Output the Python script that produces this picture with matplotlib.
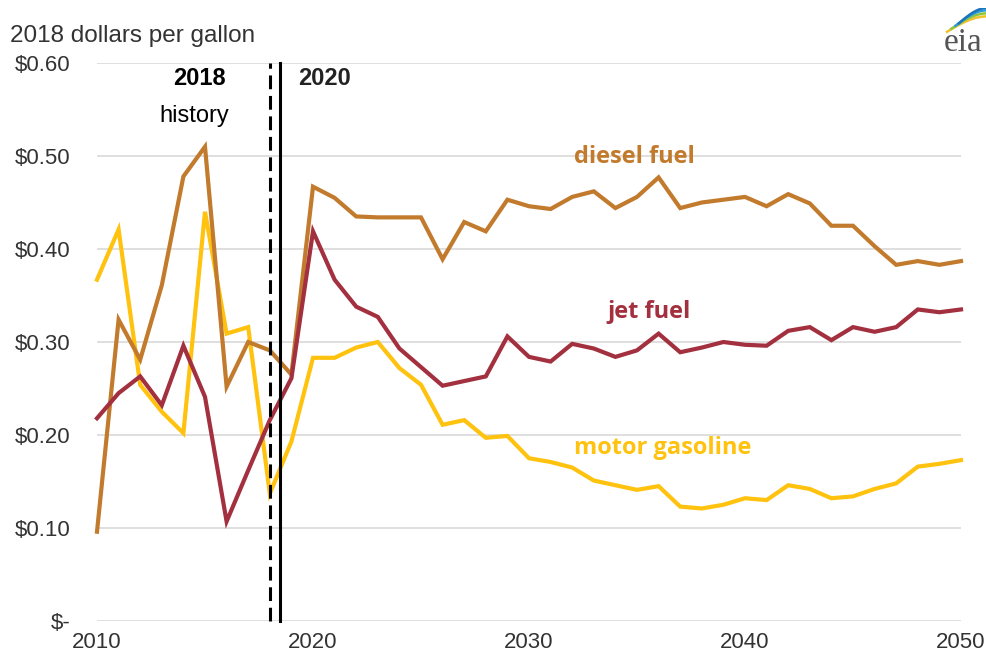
import numpy as np
import matplotlib
matplotlib.use('Agg')
import matplotlib.pyplot as plt

# Margins on fuel prices, 2018 dollars per gallon
years = list(range(2010, 2051))

diesel = [0.096, 0.324, 0.281, 0.361, 0.478, 0.510, 0.252, 0.300, 0.291, 0.265,
          0.467, 0.455, 0.435, 0.434, 0.434, 0.434, 0.389, 0.429, 0.419, 0.453,
          0.446, 0.443, 0.456, 0.462, 0.444, 0.456, 0.477, 0.444, 0.450, 0.453,
          0.456, 0.446, 0.459, 0.449, 0.425, 0.425, 0.403, 0.383, 0.387, 0.383,
          0.387]

jet = [0.218, 0.245, 0.263, 0.232, 0.296, 0.241, 0.107, 0.162, 0.216, 0.261,
       0.419, 0.367, 0.338, 0.327, 0.293, 0.273, 0.253, 0.258, 0.263, 0.306,
       0.284, 0.279, 0.298, 0.293, 0.284, 0.291, 0.309, 0.289, 0.294, 0.300,
       0.297, 0.296, 0.312, 0.316, 0.302, 0.316, 0.311, 0.316, 0.335, 0.332,
       0.335]

gasoline = [0.367, 0.421, 0.254, 0.225, 0.202, 0.440, 0.309, 0.316, 0.137, 0.193,
            0.283, 0.283, 0.294, 0.300, 0.272, 0.254, 0.211, 0.216, 0.197, 0.199,
            0.175, 0.171, 0.165, 0.151, 0.146, 0.141, 0.145, 0.123, 0.121, 0.125,
            0.132, 0.130, 0.146, 0.142, 0.132, 0.134, 0.142, 0.148, 0.166, 0.169,
            0.173]

yticks = [0, 0.1, 0.2, 0.3, 0.4, 0.5, 0.6]
ytick_labels = ['$-', '$0.10', '$0.20', '$0.30', '$0.40', '$0.50', '$0.60']
xticks = [2010, 2020, 2030, 2040, 2050]

c_diesel = '#C27A2D'
c_jet = '#A3303F'
c_gas = '#FFC20E'

fig = plt.figure(figsize=(9.87, 6.59), dpi=100)
ax = fig.add_axes([97/987, 38/659, 864/987, 558/659])

for v in yticks:
    ax.axhline(v, color='#D9D9D9', lw=1.2, zorder=0)

ax.plot(years, gasoline, color=c_gas, lw=3, clip_on=False, zorder=3, solid_joinstyle='miter')
ax.plot(years, diesel, color=c_diesel, lw=3, clip_on=False, zorder=3, solid_joinstyle='miter')
ax.plot(years, jet, color=c_jet, lw=3, clip_on=False, zorder=4, solid_joinstyle='miter')

# history / projection dividers
ax.plot([2018, 2018], [0, 0.6], color='black', lw=2.2, ls=(0, (4.5, 2.2)), zorder=5, clip_on=False)
ax.plot([2018.45, 2018.45], [0, 0.6], color='black', lw=2.2, zorder=5, clip_on=False)

ax.set_xlim(2010, 2050)
ax.set_ylim(0, 0.6)
for s in ax.spines.values():
    s.set_visible(False)

ax.set_yticks(yticks)
ax.set_yticklabels(ytick_labels, family='Liberation Sans', fontsize=16, color='#333333')
ax.set_xticks(xticks)
ax.set_xticklabels([str(x) for x in xticks], family='Liberation Sans', fontsize=16, color='#333333')
ax.tick_params(axis='y', length=0, pad=19)
ax.tick_params(axis='x', length=0, pad=8)

ax.text(2014.75, 0.583, '2018', ha='center', va='center', fontsize=17, fontweight='bold',
        family='Liberation Sans', color='black')
ax.text(2014.5, 0.543, 'history', ha='center', va='center', fontsize=17,
        family='Liberation Sans', color='black')
ax.text(2019.3, 0.583, '2020', ha='left', va='center', fontsize=17, fontweight='bold',
        family='Liberation Sans', color='#222222')

ax.text(2034.9, 0.499, 'diesel fuel', ha='center', va='center', fontsize=17, fontweight='bold',
        family='Open Sans', color=c_diesel)
ax.text(2035.55, 0.332, 'jet fuel', ha='center', va='center', fontsize=17, fontweight='bold',
        family='Open Sans', color=c_jet)
ax.text(2036.2, 0.186, 'motor gasoline', ha='center', va='center', fontsize=17, fontweight='bold',
        family='Open Sans', color=c_gas)

fig.text(10/987, 1 - 36/659, '2018 dollars per gallon', ha='left', va='center', fontsize=17.5,
         family='Liberation Sans', color='#333333')

# eia logo
fig.text(963/987, 1 - 43/659, 'eia', ha='center', va='center', fontsize=24,
         family='Liberation Serif', color='#555555')
lx = fig.add_axes([940/987, 1 - 36/659, 47/987, 28/659])
lx.set_xlim(0, 1)
lx.set_ylim(0, 1)
lx.axis('off')
t = np.linspace(0, 1, 30)
for off, col in [(0.0, '#F2C12E'), (0.18, '#8CC63F'), (0.36, '#2E9BD6'), (0.5, '#1B75BB')]:
    xs = 0.15 + off * 0.5 + t * (1.0 - 0.15 - off * 0.5)
    ys = 0.15 + off * 0.6 + 0.55 * np.sin(t * np.pi / 2)
    lx.plot(xs, ys, color=col, lw=1.8)

fig.savefig('out.png', dpi=100)
